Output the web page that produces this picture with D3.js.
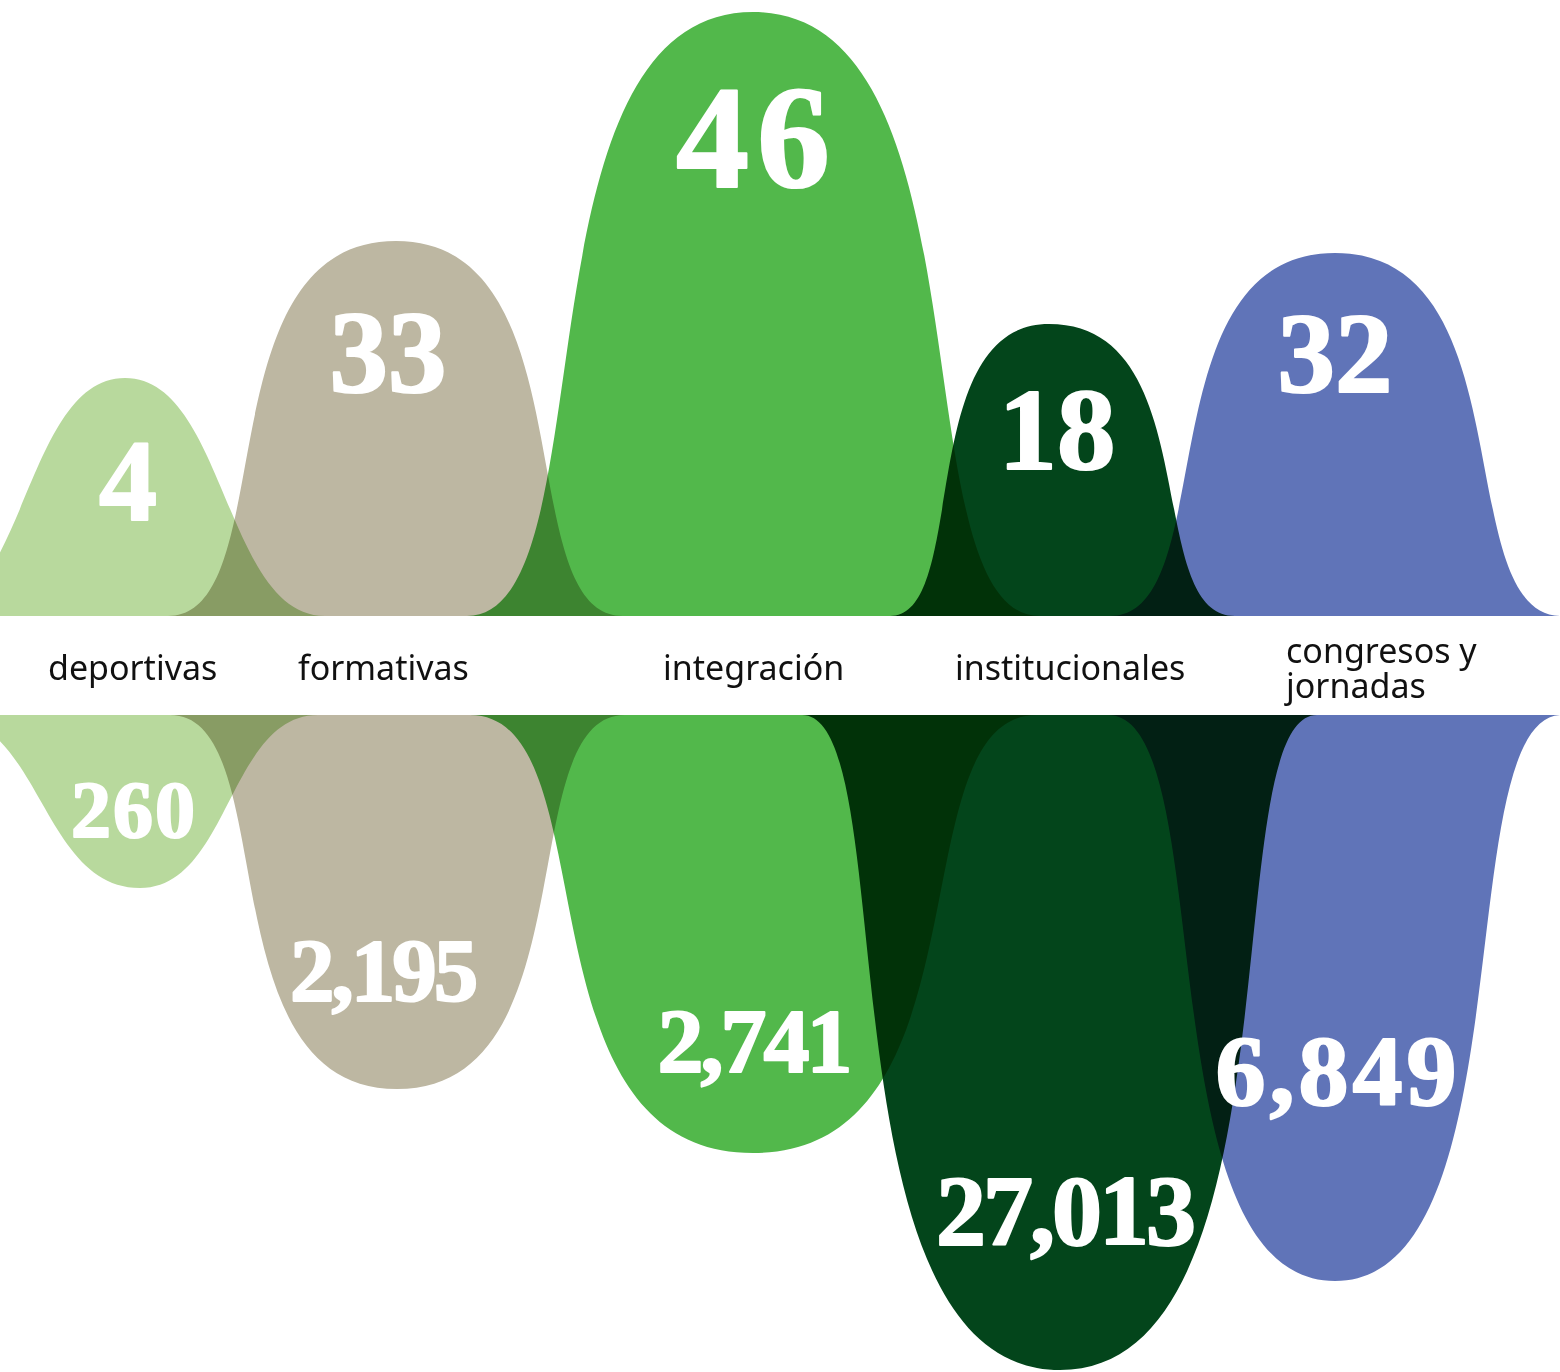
<!DOCTYPE html>
<html><head><meta charset="utf-8">
<script src="https://cdn.jsdelivr.net/npm/d3@7"></script>
<style>
html,body{margin:0;padding:0;background:#fff;}
svg{display:block;background:#fff;}
.shape{mix-blend-mode:multiply;}
</style></head><body>
<svg id="chart" width="1560" height="1372"></svg>
<script>
// ---------- data ----------
const categories = ["deportivas", "formativas", "integración", "institucionales", "congresos y jornadas"];
const labelLines = [["deportivas"], ["formativas"], ["integración"], ["institucionales"], ["congresos y", "jornadas"]];
const eventos = [4, 33, 46, 18, 32];               // upper humps
const asistentes = [260, 2195, 2741, 27013, 6849]; // lower humps

// ---------- styles / layout ----------
const colors = ["#b8d99d", "#bdb7a2", "#52b84b", "#03451b", "#6074b8"];
const W = 1560, H = 1372;
const topBase = 616, botBase = 715;

// designer heights (polylinear scales)
const topH = d3.scaleLinear().domain([0, ...d3.sort(eventos)]).range([0, 238, 292, 363, 375, 604]);
const botH = d3.scaleLinear().domain([0, ...d3.sort(asistentes)]).range([0, 173, 374, 438, 566, 655]);

// horizontal geometry of each hump (left foot, crest, right foot, handle fractions)
const topGeom = [
  {x0: -75, cx: 125, x1: 325, c1: .5, c2: .5},
  {x0: 168, cx: 396, x1: 623, c1: .5, c2: .85},
  {x0: 467, cx: 753, x1: 1040, c1: .5, c2: .85},
  {x0: 890, cx: 1049, x1: 1235, c1: .5, c2: .85},
  {x0: 1110, cx: 1335, x1: 1562, c1: .5, c2: .85}
];
const botGeom = [
  {x0: -58, cx: 140, x1: 318, c1: .5, c2: .5},
  {x0: 170, cx: 397, x1: 625, c1: .5, c2: .85},
  {x0: 470, cx: 753, x1: 1037, c1: .5, c2: .85},
  {x0: 802, cx: 1060, x1: 1317, c1: .4, c2: .95},
  {x0: 1108, cx: 1335, x1: 1562, c1: .5, c2: .85}
];
// number label layout: font size, nudge from crest, baseline, letter spacing
const topNum = [
  {fs: 116, dx: 3, y: 520, ls: 0}, {fs: 117, dx: -8, y: 392, ls: 0}, {fs: 146, dx: 0, y: 187, ls: 8},
  {fs: 117, dx: 8, y: 469, ls: 0}, {fs: 115, dx: 0, y: 392, ls: 0}
];
const botNum = [
  {fs: 80, dx: -7, y: 837, ls: 2}, {fs: 89, dx: -13, y: 1000, ls: -3}, {fs: 92, dx: 2, y: 1072, ls: -3},
  {fs: 100, dx: 6, y: 1244, ls: -3}, {fs: 100, dx: 1, y: 1104, ls: 4}
];
const labelX = [48, 298, 663, 955, 1286];

const fmt = d3.format(",");
const svg = d3.select("#chart");

function hump(g, base, peak) {
  const p = d3.path();
  const wl = g.cx - g.x0, wr = g.x1 - g.cx;
  p.moveTo(g.x0, base);
  p.bezierCurveTo(g.x0 + g.c1 * wl, base, g.cx - g.c2 * wl, peak, g.cx, peak);
  p.bezierCurveTo(g.cx + g.c2 * wr, peak, g.x1 - g.c1 * wr, base, g.x1, base);
  p.closePath();
  return p.toString();
}

const shapes = svg.append("g");
shapes.selectAll("path.top").data(eventos).join("path")
  .attr("class", "shape top")
  .attr("fill", (d, i) => colors[i])
  .attr("d", (d, i) => hump(topGeom[i], topBase, topBase - topH(d)));
shapes.selectAll("path.bot").data(asistentes).join("path")
  .attr("class", "shape bot")
  .attr("fill", (d, i) => colors[i])
  .attr("d", (d, i) => hump(botGeom[i], botBase, botBase + botH(d)));

// white band
svg.append("rect").attr("x", 0).attr("y", topBase).attr("width", W).attr("height", botBase - topBase).attr("fill", "#fff");

// numbers
const nums = svg.append("g")
  .attr("font-family", "'Liberation Serif', 'DejaVu Serif', serif")
  .attr("font-weight", 700).attr("fill", "#fff")
  .attr("stroke", "#fff").attr("stroke-width", 2.2).attr("stroke-linejoin", "round")
  .attr("text-anchor", "middle");
nums.selectAll("text.top").data(eventos).join("text")
  .attr("class", "top")
  .attr("x", (d, i) => topGeom[i].cx + topNum[i].dx + topNum[i].ls / 2)
  .attr("y", (d, i) => topNum[i].y)
  .attr("font-size", (d, i) => topNum[i].fs)
  .attr("letter-spacing", (d, i) => topNum[i].ls)
  .text(d => fmt(d));
nums.selectAll("text.bot").data(asistentes).join("text")
  .attr("class", "bot")
  .attr("x", (d, i) => botGeom[i].cx + botNum[i].dx + botNum[i].ls / 2)
  .attr("y", (d, i) => botNum[i].y)
  .attr("font-size", (d, i) => botNum[i].fs)
  .attr("letter-spacing", (d, i) => botNum[i].ls)
  .text(d => fmt(d));

// category labels
const labels = svg.append("g")
  .attr("font-family", "'Noto Sans', 'Open Sans', sans-serif")
  .attr("font-size", 34).attr("fill", "#111");
categories.forEach((c, i) => {
  labelLines[i].forEach((line, j) => {
    labels.append("text")
      .attr("x", labelX[i])
      .attr("y", labelLines[i].length > 1 ? 663 + j * 35 : 680)
      .text(line);
  });
});
</script>
</body></html>
